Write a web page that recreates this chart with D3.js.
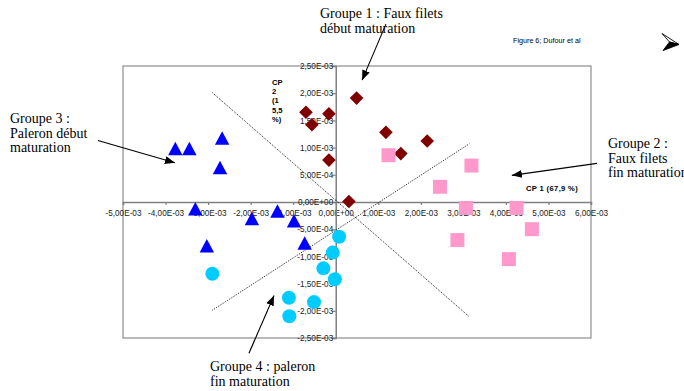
<!DOCTYPE html>
<meta charset="utf-8">
<style>
body { margin: 0; background: #fff; }
svg { display: block; }
.tick text { font-family: "Liberation Sans", Arial, sans-serif; font-size: 8.2px; fill: #222; }
.tick line { stroke: #808080; }
.note { font-family: "Liberation Serif", "Times New Roman", serif; font-size: 14px; fill: #000; }
.axlab { font-family: "Liberation Sans", Arial, sans-serif; font-size: 7.6px; font-weight: bold; fill: #000; }
</style>
<body>
<script src="https://d3js.org/d3.v7.min.js"></script>
<script>

// PCA scores (x = CP 1, y = CP 2)
var groupe1 = [  // faux filets debut maturation (diamonds)
  [-0.70e-3, 1.65e-3], [-0.16e-3, 1.62e-3], [-0.56e-3, 1.42e-3], [-0.16e-3, 0.77e-3],
  [0.31e-3, 0.01e-3], [0.49e-3, 1.91e-3], [1.18e-3, 1.28e-3], [1.53e-3, 0.89e-3],
  [2.15e-3, 1.12e-3]
];
var groupe2 = [  // faux filets fin maturation (squares)
  [1.24e-3, 0.86e-3], [3.19e-3, 0.67e-3], [2.45e-3, 0.28e-3], [3.06e-3, -0.11e-3],
  [4.25e-3, -0.11e-3], [4.61e-3, -0.50e-3], [2.86e-3, -0.70e-3], [4.07e-3, -1.05e-3]
];
var groupe3 = [  // paleron debut maturation (triangles)
  [-3.77e-3, 0.98e-3], [-3.44e-3, 0.98e-3], [-2.67e-3, 1.17e-3], [-2.72e-3, 0.63e-3],
  [-3.30e-3, -0.13e-3], [-1.97e-3, -0.31e-3], [-1.37e-3, -0.17e-3], [-0.98e-3, -0.35e-3],
  [-3.03e-3, -0.81e-3], [-0.73e-3, -0.76e-3]
];
var groupe4 = [  // paleron fin maturation (circles)
  [0.08e-3, -0.64e-3], [-0.07e-3, -0.93e-3], [-0.29e-3, -1.22e-3], [-0.02e-3, -1.42e-3],
  [-2.90e-3, -1.32e-3], [-1.10e-3, -1.76e-3], [-0.51e-3, -1.84e-3], [-1.09e-3, -2.10e-3]
];

// dotted separation lines
var separators = [
  [[-2.90e-3, 2.01e-3], [3.14e-3, -2.11e-3]],
  [[-2.90e-3, -1.99e-3], [3.14e-3, 1.07e-3]]
];

// annotation arrows, from -> to, in data units
var arrows = [
  [[1.18e-3, 3.27e-3], [0.62e-3, 2.24e-3]],
  [[6.14e-3, 0.71e-3], [4.14e-3, 0.49e-3]],
  [[-5.59e-3, 1.13e-3], [-3.78e-3, 0.72e-3]],
  [[-2.04e-3, -2.78e-3], [-1.45e-3, -1.72e-3]]
];

var xTicks = [-5e-3, -4e-3, -3e-3, -2e-3, -1e-3, 0, 1e-3, 2e-3, 3e-3, 4e-3, 5e-3, 6e-3];
var yTicks = [-2.5e-3, -2e-3, -1.5e-3, -1e-3, -5e-4, 0, 5e-4, 1e-3, 1.5e-3, 2e-3, 2.5e-3];

var notes = [
  {x: 320, y: 18, lines: ["Groupe 1 : Faux filets", "début maturation"]},
  {x: 608, y: 148, lines: ["Groupe 2 :", "Faux filets", "fin maturation"]},
  {x: 10, y: 123, lines: ["Groupe 3 :", "Paleron début", "maturation"]},
  {x: 210, y: 371, lines: ["Groupe 4 : paleron", "fin maturation"]}
];

var width = 684, height = 391;

var x = d3.scaleLinear().domain([-5e-3, 6e-3]).range([123, 591]);
var y = d3.scaleLinear().domain([-2.5e-3, 2.5e-3]).range([338, 66]);

function sci(v) {
  if (Math.abs(v) < 1e-12) return "0,00E+00";
  var e = Math.floor(Math.log10(Math.abs(v)) + 1e-9);
  var m = v / Math.pow(10, e);
  return m.toFixed(2).replace(".", ",") + "E" + (e < 0 ? "-" : "+") + String(Math.abs(e)).padStart(2, "0");
}

var svg = d3.select("body").append("svg")
    .attr("width", width)
    .attr("height", height);

svg.append("defs").append("marker")
    .attr("id", "head")
    .attr("markerUnits", "userSpaceOnUse")
    .attr("markerWidth", 11).attr("markerHeight", 8)
    .attr("refX", 10).attr("refY", 4)
    .attr("orient", "auto")
  .append("path")
    .attr("d", "M0,0 L10,4 L0,8 Z")
    .attr("fill", "#000");

// plot frame
svg.append("rect")
    .attr("x", x(-5e-3)).attr("y", y(2.5e-3))
    .attr("width", x(6e-3) - x(-5e-3))
    .attr("height", y(-2.5e-3) - y(2.5e-3))
    .attr("fill", "none")
    .attr("stroke", "#8c8c8c")
    .attr("stroke-width", 1.2);

// axes through the origin
var gx = svg.append("g")
    .attr("transform", `translate(0,${y(0)})`)
    .call(d3.axisBottom(x).tickValues(xTicks).tickFormat(sci).tickSize(3).tickPadding(5));
var gy = svg.append("g")
    .attr("transform", `translate(${x(0)},0)`)
    .call(d3.axisLeft(y).tickValues(yTicks).tickFormat(sci).tickSize(4).tickPadding(-1.5));
gx.select(".domain").attr("stroke", "#808080").attr("stroke-width", 1.5);
gy.select(".domain").attr("stroke", "#808080").attr("stroke-width", 1.5);
gx.selectAll(".tick line").attr("stroke-width", 1.2);
gy.selectAll(".tick line").attr("stroke-width", 1.2);

// dotted separators
svg.selectAll("line.sep")
    .data(separators)
  .enter().append("line")
    .attr("class", "sep")
    .attr("x1", d => x(d[0][0])).attr("y1", d => y(d[0][1]))
    .attr("x2", d => x(d[1][0])).attr("y2", d => y(d[1][1]))
    .attr("stroke", "#000")
    .attr("stroke-width", 0.9)
    .attr("stroke-dasharray", "1 1.2");

// markers
svg.selectAll("path.diamond")
    .data(groupe1)
  .enter().append("path")
    .attr("class", "diamond")
    .attr("d", d => { var cx = x(d[0]), cy = y(d[1]), r = 6.8;
      return `M${cx},${cy - r}L${cx + r},${cy}L${cx},${cy + r}L${cx - r},${cy}Z`; })
    .attr("fill", "#800000");

svg.selectAll("rect.sq")
    .data(groupe2)
  .enter().append("rect")
    .attr("class", "sq")
    .attr("x", d => x(d[0]) - 7).attr("y", d => y(d[1]) - 7)
    .attr("width", 14).attr("height", 14)
    .attr("fill", "#ff99cc");

svg.selectAll("path.tri")
    .data(groupe3)
  .enter().append("path")
    .attr("class", "tri")
    .attr("d", d => { var cx = x(d[0]), cy = y(d[1]);
      return `M${cx},${cy - 7}L${cx + 7.2},${cy + 6.5}L${cx - 7.2},${cy + 6.5}Z`; })
    .attr("fill", "#0000ff");

svg.selectAll("circle.dot")
    .data(groupe4)
  .enter().append("circle")
    .attr("class", "dot")
    .attr("cx", d => x(d[0])).attr("cy", d => y(d[1]))
    .attr("r", 7)
    .attr("fill", "#00ccff");

// axis titles
var cp2 = svg.append("text").attr("class", "axlab");
["CP", "2", "(1", "5,5", "%)"].forEach((t, i) => {
  cp2.append("tspan").attr("x", 272).attr("y", 85 + i * 9.2).text(t);
});
svg.append("text")
    .attr("class", "axlab")
    .attr("x", 526).attr("y", 190.5)
    .attr("letter-spacing", 0.35)
    .text("CP 1 (67,9 %)");

// group notes
notes.forEach(n => {
  var t = svg.append("text").attr("class", "note");
  n.lines.forEach((l, i) => {
    t.append("tspan").attr("x", n.x).attr("y", n.y + i * 14.5).text(l);
  });
});

svg.selectAll("line.arrow")
    .data(arrows)
  .enter().append("line")
    .attr("class", "arrow")
    .attr("x1", d => x(d[0][0])).attr("y1", d => y(d[0][1]))
    .attr("x2", d => x(d[1][0])).attr("y2", d => y(d[1][1]))
    .attr("stroke", "#000")
    .attr("stroke-width", 1.1)
    .attr("marker-end", "url(#head)");

svg.append("text")
    .attr("x", 513).attr("y", 42.5)
    .attr("font-family", "Liberation Sans, Arial, sans-serif")
    .attr("font-size", 7.2)
    .text("Figure 6; Dufour et al");

// little pointer glyph top right
svg.append("path")
    .attr("d", "M662,33.5 L679,44.5 L669.5,42 Z")
    .attr("fill", "#fff").attr("stroke", "#000").attr("stroke-width", 0.9);
svg.append("path")
    .attr("d", "M669.5,42 L679,44.5 L663,50.5 Z")
    .attr("fill", "#000").attr("stroke", "#000").attr("stroke-width", 0.9);

</script>
</body>
